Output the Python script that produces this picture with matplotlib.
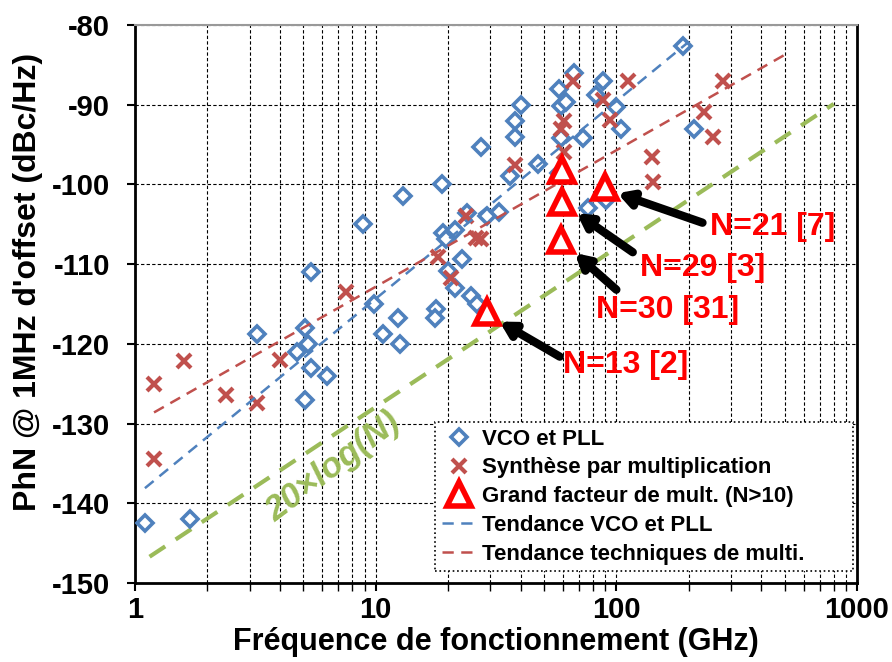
import matplotlib
matplotlib.use("Agg")
import matplotlib.pyplot as plt
from matplotlib.ticker import NullFormatter, LogLocator

plt.rcParams['font.family'] = ['Liberation Sans', 'DejaVu Sans']
plt.rcParams['font.weight'] = 'bold'

# VCO et PLL (GHz, dBc/Hz)
vco_f = [1.1, 1.7, 3.2, 5.1, 5.4, 8.9, 5.1, 5.25, 4.7, 5.4, 6.3, 10.7, 9.8, 13, 18.9,
         19.1, 21.3, 19.6, 23.9, 28.9, 32.7, 22.8, 20.0, 21.4, 25, 26.3, 17.8, 17.7,
         12.4, 12.6, 27.5, 40, 37.9, 37.9, 36.2, 47.3, 67, 58, 59, 62, 59, 72.7, 82,
         87.7, 100, 104.5, 211, 76.3, 91, 58, 189]
vco_v = [-142.5, -142, -118.7, -127, -111, -105, -118, -120, -121, -123, -124, -118.7,
         -115, -101.5, -100, -106.1, -105.7, -106.8, -103.6, -104, -103.5, -109.4,
         -110.8, -113, -114, -115, -115.6, -116.8, -116.8, -120, -95.3, -90, -92, -94,
         -99, -97.4, -86, -88, -90.2, -89.6, -94.2, -94.2, -88.8, -87, -90.3, -93, -93,
         -102.9, -102, -98.6, -82.6]

# Synthese par multiplication
syn_f = [1.2, 1.6, 2.4, 3.2, 4.0, 1.2, 7.5, 18.2, 20.5, 23.8, 26.2, 27.5, 37.9, 60.8,
         59, 60.5, 66, 87.7, 94.5, 111.6, 232, 252, 277, 141, 142]
syn_v = [-125, -122.2, -126.4, -127.4, -122, -134.4, -113.5, -109.1, -111.7, -104,
         -106.7, -106.8, -97.5, -95.9, -93, -92, -87, -89.4, -91.9, -87, -90.9, -94,
         -87, -96.5, -99.7]

# Grand facteur de multiplication (N>10)
tri_f = [29, 59.6, 59.6, 59, 89.3]
tri_v = [-116, -98.2, -102.2, -107, -100.3]

# tendances (extremites)
vco_trend_f = [1.1, 200]
vco_trend_v = [-138.1, -82.1]
syn_trend_f = [1.2, 510]
syn_trend_v = [-128.6, -83.6]
n_line_f = [1.15, 800]
n_line_v = [-146.7, -89.9]

# annotations: texte, pointe, queue, position du texte
ann_labels = ["N=21 [7]", "N=29 [3]", "N=30 [31]", "N=13 [2]"]
ann_tips = [(101, -101.1), (68.4, -103.6), (67.2, -108.6), (32.7, -117.2)]
ann_tails = [(228, -104.8), (117, -108.5), (100, -113.2), (58.2, -121.6)]
ann_text = [(445, -105.3), (228, -110.5), (162.6, -115.8), (109.4, -122.6)]

yticks = [-150, -140, -130, -120, -110, -100, -90, -80]
ytick_labels = ["-150", "-140", "-130", "-120", "-110", "-100", "-90", "-80"]
xticks = [1, 10, 100, 1000]
xtick_labels = ["1", "10", "100", "1000"]

blue = '#4F81BD'
red = '#C0504D'
green = '#9BBB59'

fig = plt.figure(figsize=(8.92, 6.62), dpi=100)
ax = fig.add_axes([0.1513, 0.1193, 0.8095, 0.8429])

ax.plot(n_line_f, n_line_v, color=green, lw=3, ls=(0, (4.5, 3)), zorder=2)
ax.plot(vco_f, vco_v, ls='none', marker='D', ms=8.5, mfc='white', mec=blue, mew=2.6,
        label='VCO et PLL', zorder=3)
ax.plot(syn_f, syn_v, ls='none', marker='x', ms=10.5, mec=red, mew=3,
        label='Synthèse par multiplication', zorder=3)
ax.plot(tri_f, tri_v, ls='none', marker='^', ms=17, mfc='white', mec='#FF0000', mew=4,
        label='Grand facteur de mult. (N>10)', zorder=5)
ax.plot(vco_trend_f, vco_trend_v, color=blue, lw=1.8, ls=(0, (4.5, 3)),
        label='Tendance VCO et PLL', zorder=4)
ax.plot(syn_trend_f, syn_trend_v, color=red, lw=1.8, ls=(0, (4.5, 3)),
        label='Tendance techniques de multi.', zorder=4)

ax.text(6.7, -135.4, "20×log(N)", color=green, fontsize=25, fontweight='bold',
        fontstyle='italic', rotation=37, ha='center', va='center', zorder=2)

for lab, tip, tail, pos in zip(ann_labels, ann_tips, ann_tails, ann_text):
    ax.annotate("", xy=tip, xytext=tail,
                arrowprops=dict(arrowstyle='-|>,head_length=0.8,head_width=0.45',
                                color='k', lw=6, shrinkA=0, shrinkB=0), zorder=6)
    ax.text(pos[0], pos[1], lab, color='#FF0000', fontsize=23, fontweight='bold',
            ha='center', va='center', zorder=6)

ax.set_xscale('log')
ax.set_xlim(1, 1000)
ax.set_ylim(-150, -80)
ax.set_xticks(xticks)
ax.set_xticklabels(xtick_labels)
ax.xaxis.set_minor_locator(LogLocator(base=10, subs=range(2, 10)))
ax.xaxis.set_minor_formatter(NullFormatter())
ax.set_yticks(yticks)
ax.set_yticklabels(ytick_labels)
ax.tick_params(axis='both', which='major', labelsize=21, direction='out', length=6, width=1.5)
ax.tick_params(axis='y', which='major', pad=12)
ax.tick_params(axis='x', which='minor', direction='out', length=6, width=1)

ax.grid(which='both', color='k', ls=(0, (3, 2)), lw=0.8)
ax.set_axisbelow(True)

for s in ['left', 'bottom', 'right']:
    ax.spines[s].set_linewidth(2)
    ax.spines[s].set_color('k')
ax.spines['top'].set_color('#999999')
ax.spines['top'].set_linewidth(1.5)

ax.set_xlabel("Fréquence de fonctionnement (GHz)", fontsize=22, fontweight='bold', labelpad=2)
ax.set_ylabel("PhN @ 1MHz d'offset (dBc/Hz)", fontsize=23, fontweight='bold')
ax.yaxis.set_label_coords(-0.128, 0.54)

leg = ax.legend(loc='upper left', bbox_to_anchor=(0.4155, 0.0145, 0.579, 0.274), mode='expand',
                fontsize=16, frameon=True, fancybox=False, handlelength=1.6,
                handletextpad=0.2, labelspacing=0.35, borderpad=0.3, borderaxespad=0)
frame = leg.get_frame()
frame.set_edgecolor('k')
frame.set_linestyle(':')
frame.set_linewidth(1.2)
frame.set_alpha(1)
leg.set_zorder(7)

fig.savefig("out.png", dpi=100)
